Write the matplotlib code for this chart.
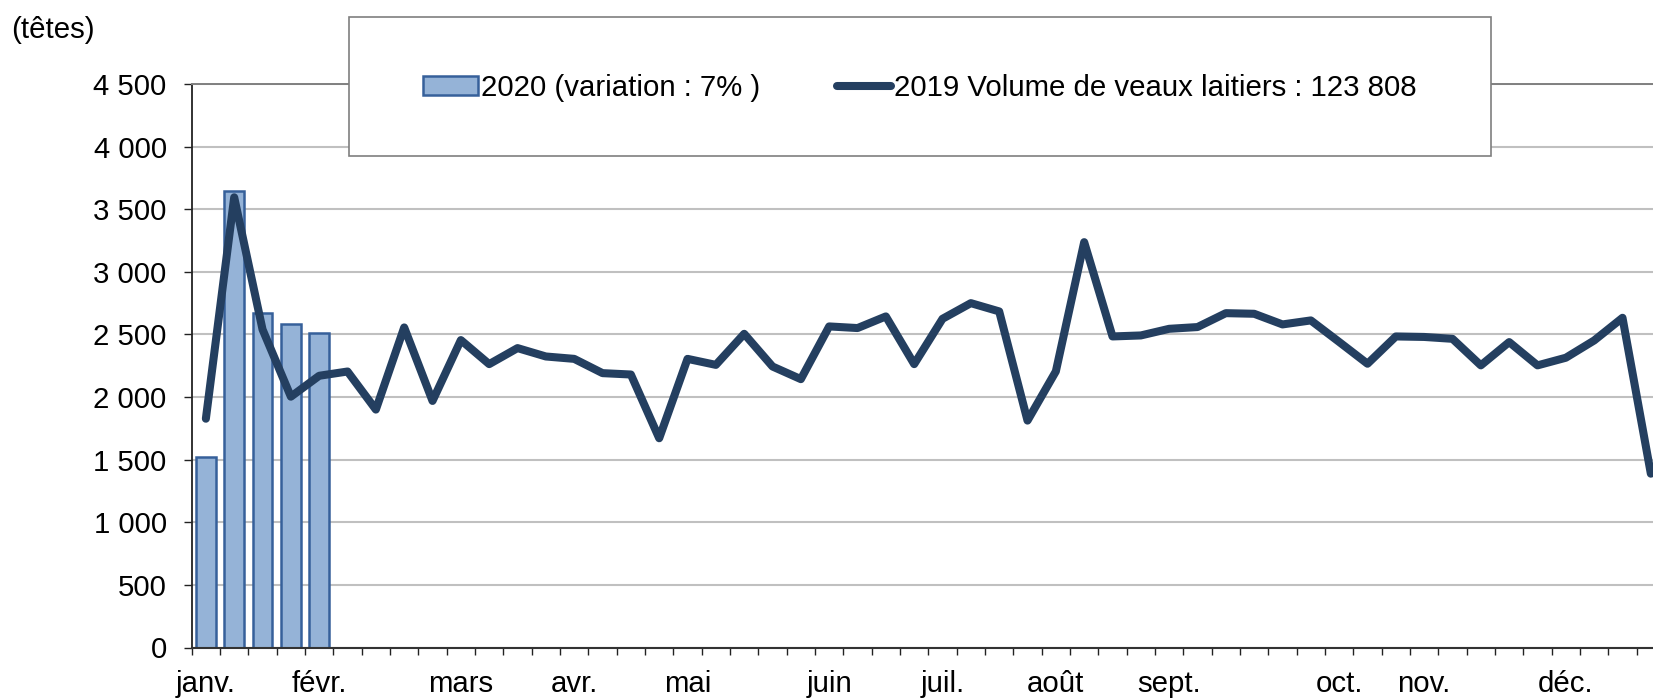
import numpy as np
import matplotlib
matplotlib.use("Agg")
import matplotlib.pyplot as plt
from matplotlib.ticker import FixedLocator, FuncFormatter
from matplotlib.patches import Rectangle

plt.rcParams['font.family'] = ['Liberation Sans', 'DejaVu Sans']

# semaines de l'annee (52)
n_weeks = 52
mois = {0: "janv.", 4: "févr.", 9: "mars", 13: "avr.", 17: "mai", 22: "juin",
        26: "juil.", 30: "août", 34: "sept.", 40: "oct.", 43: "nov.", 48: "déc."}

# 2020 : premieres semaines
vol_2020 = [1520, 3645, 2668, 2587, 2514]

# 2019 : volume hebdomadaire de veaux laitiers
vol_2019 = [1827, 3595, 2540, 2003, 2170, 2204, 1900, 2556, 1969, 2455,
            2263, 2391, 2324, 2305, 2191, 2180, 1671, 2305, 2257, 2505,
            2244, 2143, 2564, 2551, 2644, 2263, 2625, 2750, 2684, 1812,
            2205, 3237, 2484, 2492, 2545, 2559, 2670, 2665, 2580, 2612,
            2440, 2266, 2484, 2480, 2465, 2253, 2439, 2253, 2314, 2452,
            2633, 1388]

lab_2020 = "2020 (variation : 7% )"
lab_2019 = "2019 Volume de veaux laitiers : 123 808"

fs = 21.2
W, H = 1653, 698
fig = plt.figure(figsize=(W / 100, H / 100), dpi=100)
ax = fig.add_axes([191.7 / W, 1 - 647.5 / H, (1665 - 191.7) / W, (647.5 - 84) / H])

x19 = np.arange(len(vol_2019))
x20 = np.arange(len(vol_2020))
bars = ax.bar(x20, vol_2020, width=0.7, color="#95B3D7", edgecolor="#36609A",
              linewidth=1.8, zorder=2, label=lab_2020)
line, = ax.plot(x19, vol_2019, color="#243F60", lw=5.8, solid_joinstyle="round",
                solid_capstyle="round", zorder=3, label=lab_2019)

ax.set_xlim(-0.5, n_weeks - 0.5)
ax.set_ylim(0, 4500)
ax.set_yticks(np.arange(0, 4501, 500))
ax.yaxis.set_major_formatter(FuncFormatter(lambda v, p: f"{int(v):,}".replace(",", " ")))

ax.xaxis.set_major_locator(FixedLocator(list(mois.keys())))
ax.set_xticklabels(list(mois.values()))
ax.xaxis.set_minor_locator(FixedLocator(np.arange(n_weeks + 1) - 0.5))
ax.tick_params(axis="x", which="major", length=0, pad=16, labelsize=fs)
ax.tick_params(axis="x", which="minor", length=5, width=1, color="#222222", direction="out")
ax.tick_params(axis="y", length=6, width=1, color="#222222", pad=12, labelsize=fs)

ax.grid(axis="y", color="#C0C0C0", lw=1.5, zorder=0)
ax.set_axisbelow(True)
ax.spines["right"].set_visible(False)
ax.spines["top"].set_color("#808080")
ax.spines["top"].set_linewidth(1.4)
ax.spines["left"].set_color("#222222")
ax.spines["left"].set_linewidth(1.3)
ax.spines["bottom"].set_color("#333333")
ax.spines["bottom"].set_linewidth(1.5)

fig.text(11 / W, 1 - 30 / H, "(têtes)", fontsize=fs, va="center", ha="left")

# cadre de la legende
box = Rectangle((349 / W, 1 - 156 / H), (1491 - 349) / W, (156 - 17) / H,
                transform=fig.transFigure, facecolor="white", edgecolor="#7F7F7F",
                lw=1.2, zorder=4)
fig.patches.append(box)
leg = fig.legend(handles=[bars, line], loc="center", ncol=2,
                 bbox_to_anchor=(920 / W, 1 - 88 / H), frameon=False,
                 fontsize=fs, handlelength=1.85, handletextpad=0.1,
                 columnspacing=2.6, handleheight=0.6)
leg.set_zorder(5)

fig.savefig("out.png", dpi=100)
